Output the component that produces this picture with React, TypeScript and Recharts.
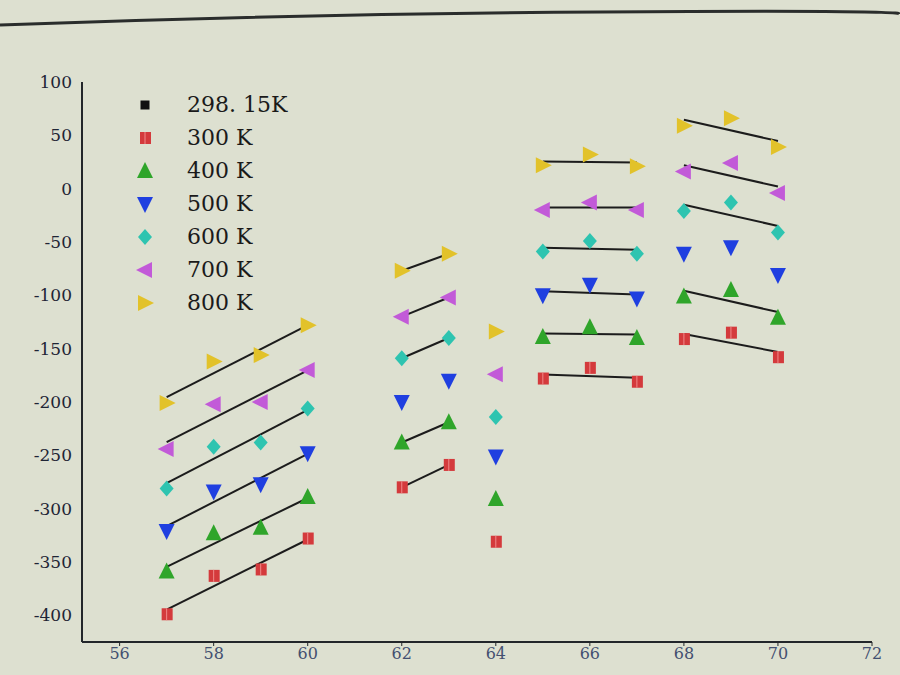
import React from 'react';
import { ScatterChart, Scatter, XAxis, YAxis } from 'recharts';

// x positions shared by every temperature series
const xValues = [57, 58, 59, 60, 62, 63, 64, 65, 66, 67, 68, 69, 70];

const k300 = [-399, -363, -357, -328, -280, -259, -331, -178, -168, -181, -141, -135, -158];
const k400 = [-359, -323, -318, -289, -238, -219, -291, -139, -130, -140, -101, -95, -121];
const k500 = [-321, -284, -277, -248, -200, -180, -251, -100, -90, -103, -61, -55, -81];
const k600 = [-281, -242, -238, -206, -159, -140, -214, -59, -49, -61, -21, -13, -41];
const k700 = [-244, -202, -200, -170, -120, -102, -174, -20, -13, -20, 16, 24, -4];
const k800 = [-201, -162, -156, -128, -77, -61, -134, 22, 32, 21, 59, 66, 39];

const xTicks = [56, 58, 60, 62, 64, 66, 68, 70, 72];
const yTicks = [-400, -350, -300, -250, -200, -150, -100, -50, 0, 50, 100];

// groups of points that get a straight-line fit, and which series skip it
const fitGroups = [
  { idx: [0, 1, 2, 3], skip: [] as string[] },
  { idx: [4, 5], skip: ['500 K'] },
  { idx: [7, 8, 9], skip: [] as string[] },
  { idx: [10, 11, 12], skip: ['500 K'] },
];

type Kind = 'square' | 'rect' | 'up' | 'down' | 'diamond' | 'left' | 'right';

const series: { name: string; values: number[]; kind: Kind; color: string }[] = [
  { name: '300 K', values: k300, kind: 'rect', color: '#d43a3c' },
  { name: '400 K', values: k400, kind: 'up', color: '#2fa52a' },
  { name: '500 K', values: k500, kind: 'down', color: '#1f3fe0' },
  { name: '600 K', values: k600, kind: 'diamond', color: '#2ec4b0' },
  { name: '700 K', values: k700, kind: 'left', color: '#c25ad8' },
  { name: '800 K', values: k800, kind: 'right', color: '#e2c22a' },
];

const legendItems: { name: string; kind: Kind; color: string }[] = [
  { name: '298. 15K', kind: 'square', color: '#111111' },
  ...series.map((s) => ({ name: s.name, kind: s.kind, color: s.color })),
];

function Marker({ cx, cy, kind, color }: { cx: number; cy: number; kind: Kind; color: string }) {
  if (cx == null || cy == null) return <g />;
  switch (kind) {
    case 'square':
      return <rect x={cx - 4.5} y={cy - 4.5} width={9} height={9} fill={color} />;
    case 'rect':
      return (
        <g>
          <rect x={cx - 5} y={cy - 6} width={11} height={12} fill={color} />
          <line x1={cx} y1={cy - 6} x2={cx} y2={cy + 6} stroke="#f08a8a" strokeWidth={1} />
        </g>
      );
    case 'up':
      return <polygon points={`${cx},${cy - 9} ${cx - 8},${cy + 7} ${cx + 8},${cy + 7}`} fill={color} />;
    case 'down':
      return <polygon points={`${cx - 8},${cy - 7} ${cx + 8},${cy - 7} ${cx},${cy + 9}`} fill={color} />;
    case 'diamond':
      return <polygon points={`${cx},${cy - 8} ${cx + 7},${cy} ${cx},${cy + 8} ${cx - 7},${cy}`} fill={color} />;
    case 'left':
      return <polygon points={`${cx - 9},${cy} ${cx + 7},${cy - 8} ${cx + 7},${cy + 8}`} fill={color} />;
    case 'right':
      return <polygon points={`${cx + 9},${cy} ${cx - 7},${cy - 8} ${cx - 7},${cy + 8}`} fill={color} />;
  }
  return <g />;
}

// least squares line through the chosen points, from first to last x
function fitLine(values: number[], idx: number[]) {
  const xs = idx.map((i) => xValues[i]);
  const ys = idx.map((i) => values[i]);
  const n = xs.length;
  const mx = xs.reduce((a, b) => a + b, 0) / n;
  const my = ys.reduce((a, b) => a + b, 0) / n;
  let sxy = 0;
  let sxx = 0;
  xs.forEach((x, i) => {
    sxy += (x - mx) * (ys[i] - my);
    sxx += (x - mx) * (x - mx);
  });
  const slope = sxy / sxx;
  const x0 = xs[0];
  const x1 = xs[n - 1];
  return [
    { x: x0, y: my + slope * (x0 - mx) },
    { x: x1, y: my + slope * (x1 - mx) },
  ];
}

const fits: { key: string; data: { x: number; y: number }[] }[] = [];
series.forEach((s) => {
  fitGroups.forEach((g, gi) => {
    if (!g.skip.includes(s.name)) fits.push({ key: `${s.name}-${gi}`, data: fitLine(s.values, g.idx) });
  });
});

const tickFont = { fontSize: 17, fontFamily: 'DejaVu Serif', fill: '#1f2535' };

export default function App() {
  return (
    <div style={{ position: 'absolute', left: 0, top: 0, width: 900, height: 675, background: '#dde0d0', overflow: 'hidden' }}>
      <svg width={900} height={40} style={{ position: 'absolute', left: 0, top: 0 }}>
        <path d="M0,25 Q300,14 600,12 T900,14" stroke="#2a2d2c" strokeWidth={3} fill="none" />
      </svg>
      <ScatterChart width={900} height={675} margin={{ top: 82, right: 28, bottom: 3, left: 22 }}>
        <XAxis
          type="number"
          dataKey="x"
          domain={[55.2, 72]}
          ticks={xTicks}
          allowDataOverflow
          height={30}
          tickSize={4}
          tickMargin={2}
          tick={{ ...tickFont, fontSize: 16, fill: '#445070' }}
          axisLine={{ stroke: '#22262a', strokeWidth: 2 }}
          tickLine={{ stroke: '#22262a' }}
        />
        <YAxis
          type="number"
          dataKey="y"
          domain={[-425, 100]}
          ticks={yTicks}
          allowDataOverflow
          width={60}
          tickLine={false}
          tickMargin={4}
          tick={tickFont}
          axisLine={{ stroke: '#22262a', strokeWidth: 2 }}
        />
        {fits.map((f) => (
          <Scatter
            key={f.key}
            data={f.data}
            line={{ stroke: '#1c1c1c', strokeWidth: 2 }}
            shape={() => <g />}
            legendType="none"
            isAnimationActive={false}
          />
        ))}
        {series.map((s) => (
          <Scatter
            key={s.name}
            name={s.name}
            data={xValues.map((x, i) => ({ x, y: s.values[i] }))}
            shape={(p: any) => <Marker cx={p.cx} cy={p.cy} kind={s.kind} color={s.color} />}
            isAnimationActive={false}
          />
        ))}
      </ScatterChart>
      <div style={{ position: 'absolute', left: 132, top: 88 }}>
        {legendItems.map((it) => (
          <div key={it.name} style={{ display: 'flex', alignItems: 'center', height: 33 }}>
            <svg width={26} height={26} style={{ marginRight: 29 }}>
              <Marker cx={13} cy={13} kind={it.kind} color={it.color} />
            </svg>
            <span style={{ fontFamily: 'DejaVu Serif', fontSize: 22, color: '#1a1a1a', lineHeight: '33px' }}>{it.name}</span>
          </div>
        ))}
      </div>
    </div>
  );
}
